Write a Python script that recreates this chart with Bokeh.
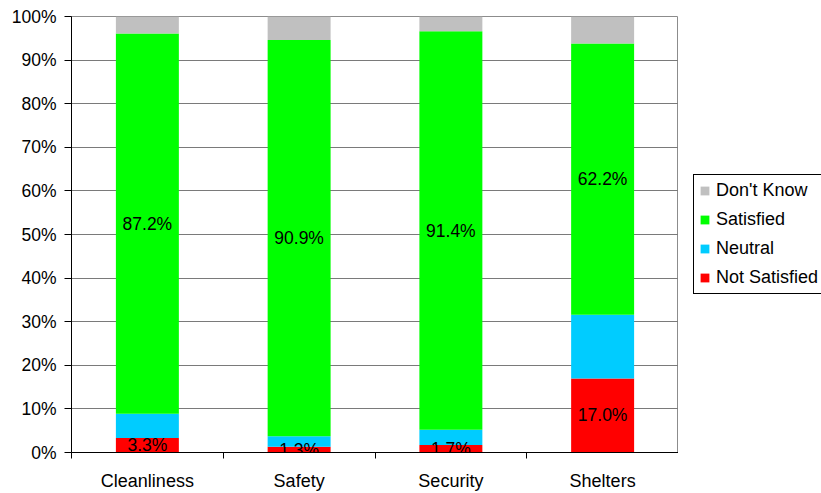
from bokeh.plotting import figure
from bokeh.layouts import row
from bokeh.models import (ColumnDataSource, Range1d, FixedTicker, PrintfTickFormatter)
from bokeh.core.properties import value
from bokeh.embed import file_html
from bokeh.resources import INLINE

# Survey results, percent of respondents per topic
categories = ["Cleanliness", "Safety", "Security", "Shelters"]
not_satisfied = [3.3, 1.3, 1.7, 17.0]
neutral = [5.6, 2.4, 3.5, 14.6]
satisfied = [87.2, 90.9, 91.4, 62.2]
dont_know = [3.9, 5.4, 3.4, 6.2]
y_ticks = list(range(0, 101, 10))

FONT = "Liberation Sans"
COLORS = ["#FF0000", "#00CCFF", "#00FF00", "#C0C0C0"]
SERIES = ["not_satisfied", "neutral", "satisfied", "dont_know"]
NAMES = ["Not Satisfied", "Neutral", "Satisfied", "Don't Know"]

xpos = [i + 0.5 for i in range(len(categories))]
src = ColumnDataSource(dict(
    x=xpos, cat=categories,
    not_satisfied=not_satisfied, neutral=neutral,
    satisfied=satisfied, dont_know=dont_know,
))

# ---- main chart -------------------------------------------------------
p = figure(width=678, height=493, output_backend="svg", toolbar_location=None,
           x_range=Range1d(0, len(categories)), y_range=Range1d(0, 100),
           min_border_left=71, min_border_right=0, min_border_top=16,
           min_border_bottom=40)
p.background_fill_color = "white"
p.border_fill_color = "white"
p.outline_line_color = "#8c8c8c"
p.outline_line_width = 1

p.vbar_stack(SERIES, x="x", width=0.415, source=src, color=COLORS, line_color=None)

# value labels for "Satisfied" and "Not Satisfied" segments
lab_sat = ColumnDataSource(dict(
    x=xpos,
    y=[a + b + c / 2 for a, b, c in zip(not_satisfied, neutral, satisfied)],
    t=[f"{v:.1f}%" for v in satisfied],
))
lab_ns = ColumnDataSource(dict(
    x=xpos,
    y=[a / 2 for a in not_satisfied],
    t=[f"{v:.1f}%" for v in not_satisfied],
))
for s in (lab_sat, lab_ns):
    p.text(x="x", y="y", text="t", source=s, text_align="center",
           text_baseline="middle", text_font=value(FONT),
           text_font_size="17.5px", text_color="black")

# y axis
p.yaxis.ticker = FixedTicker(ticks=y_ticks)
p.yaxis.formatter = PrintfTickFormatter(format="%d%%")
p.yaxis.major_tick_out = 7
p.yaxis.major_tick_in = 0
p.yaxis.minor_tick_out = 0
p.yaxis.minor_tick_in = 0
p.yaxis.major_label_standoff = 8
p.yaxis.major_label_text_font_size = "17.5px"

# x axis: labels at bar centres, tick marks between categories
p.xaxis.ticker = FixedTicker(ticks=xpos, minor_ticks=list(range(len(categories) + 1)))
p.xaxis.major_label_overrides = {x: c for x, c in zip(xpos, categories)}
p.xaxis.major_tick_out = 0
p.xaxis.major_tick_in = 0
p.xaxis.minor_tick_out = 6
p.xaxis.minor_tick_in = 0
p.xaxis.major_label_standoff = 12
p.xaxis.major_label_text_font_size = "18px"

for ax in (p.xaxis, p.yaxis):
    ax.axis_line_color = "black"
    ax.major_tick_line_color = "black"
    ax.minor_tick_line_color = "black"
    ax.major_label_text_font = FONT
    ax.major_label_text_color = "black"

p.xgrid.visible = False
p.ygrid.grid_line_color = "#7a7a7a"
p.ygrid.grid_line_width = 1

# ---- legend panel to the right of the chart ----------------------------
leg = figure(width=143, height=493, output_backend="svg", toolbar_location=None,
             x_range=Range1d(0, 1), y_range=Range1d(0, 1),
             min_border=0, outline_line_color=None)
leg.axis.visible = False
leg.grid.visible = False
leg.background_fill_color = "white"
leg.border_fill_color = "white"
# placeholder glyphs (a single NaN row) that only provide the legend swatches
swatch = ColumnDataSource(dict(x=[float("nan")], top=[float("nan")]))
for name, color in reversed(list(zip(NAMES, COLORS))):
    leg.vbar(x="x", top="top", width=0.5, source=swatch, color=color,
             line_color=None, legend_label=name)

lg = leg.legend[0]
lg.location = (15, 158)
lg.orientation = "vertical"
lg.border_line_color = "black"
lg.border_line_width = 1
lg.border_line_alpha = 1
lg.background_fill_color = "white"
lg.background_fill_alpha = 1
lg.label_text_font = FONT
lg.label_text_font_size = "18px"
lg.label_text_color = "black"
lg.glyph_width = 11
lg.glyph_height = 11
lg.label_height = 20
lg.spacing = 8
lg.padding = 5
lg.margin = 0
lg.label_standoff = 6

layout = row(p, leg, spacing=0)
open("out.html", "w").write(file_html(layout, INLINE))
